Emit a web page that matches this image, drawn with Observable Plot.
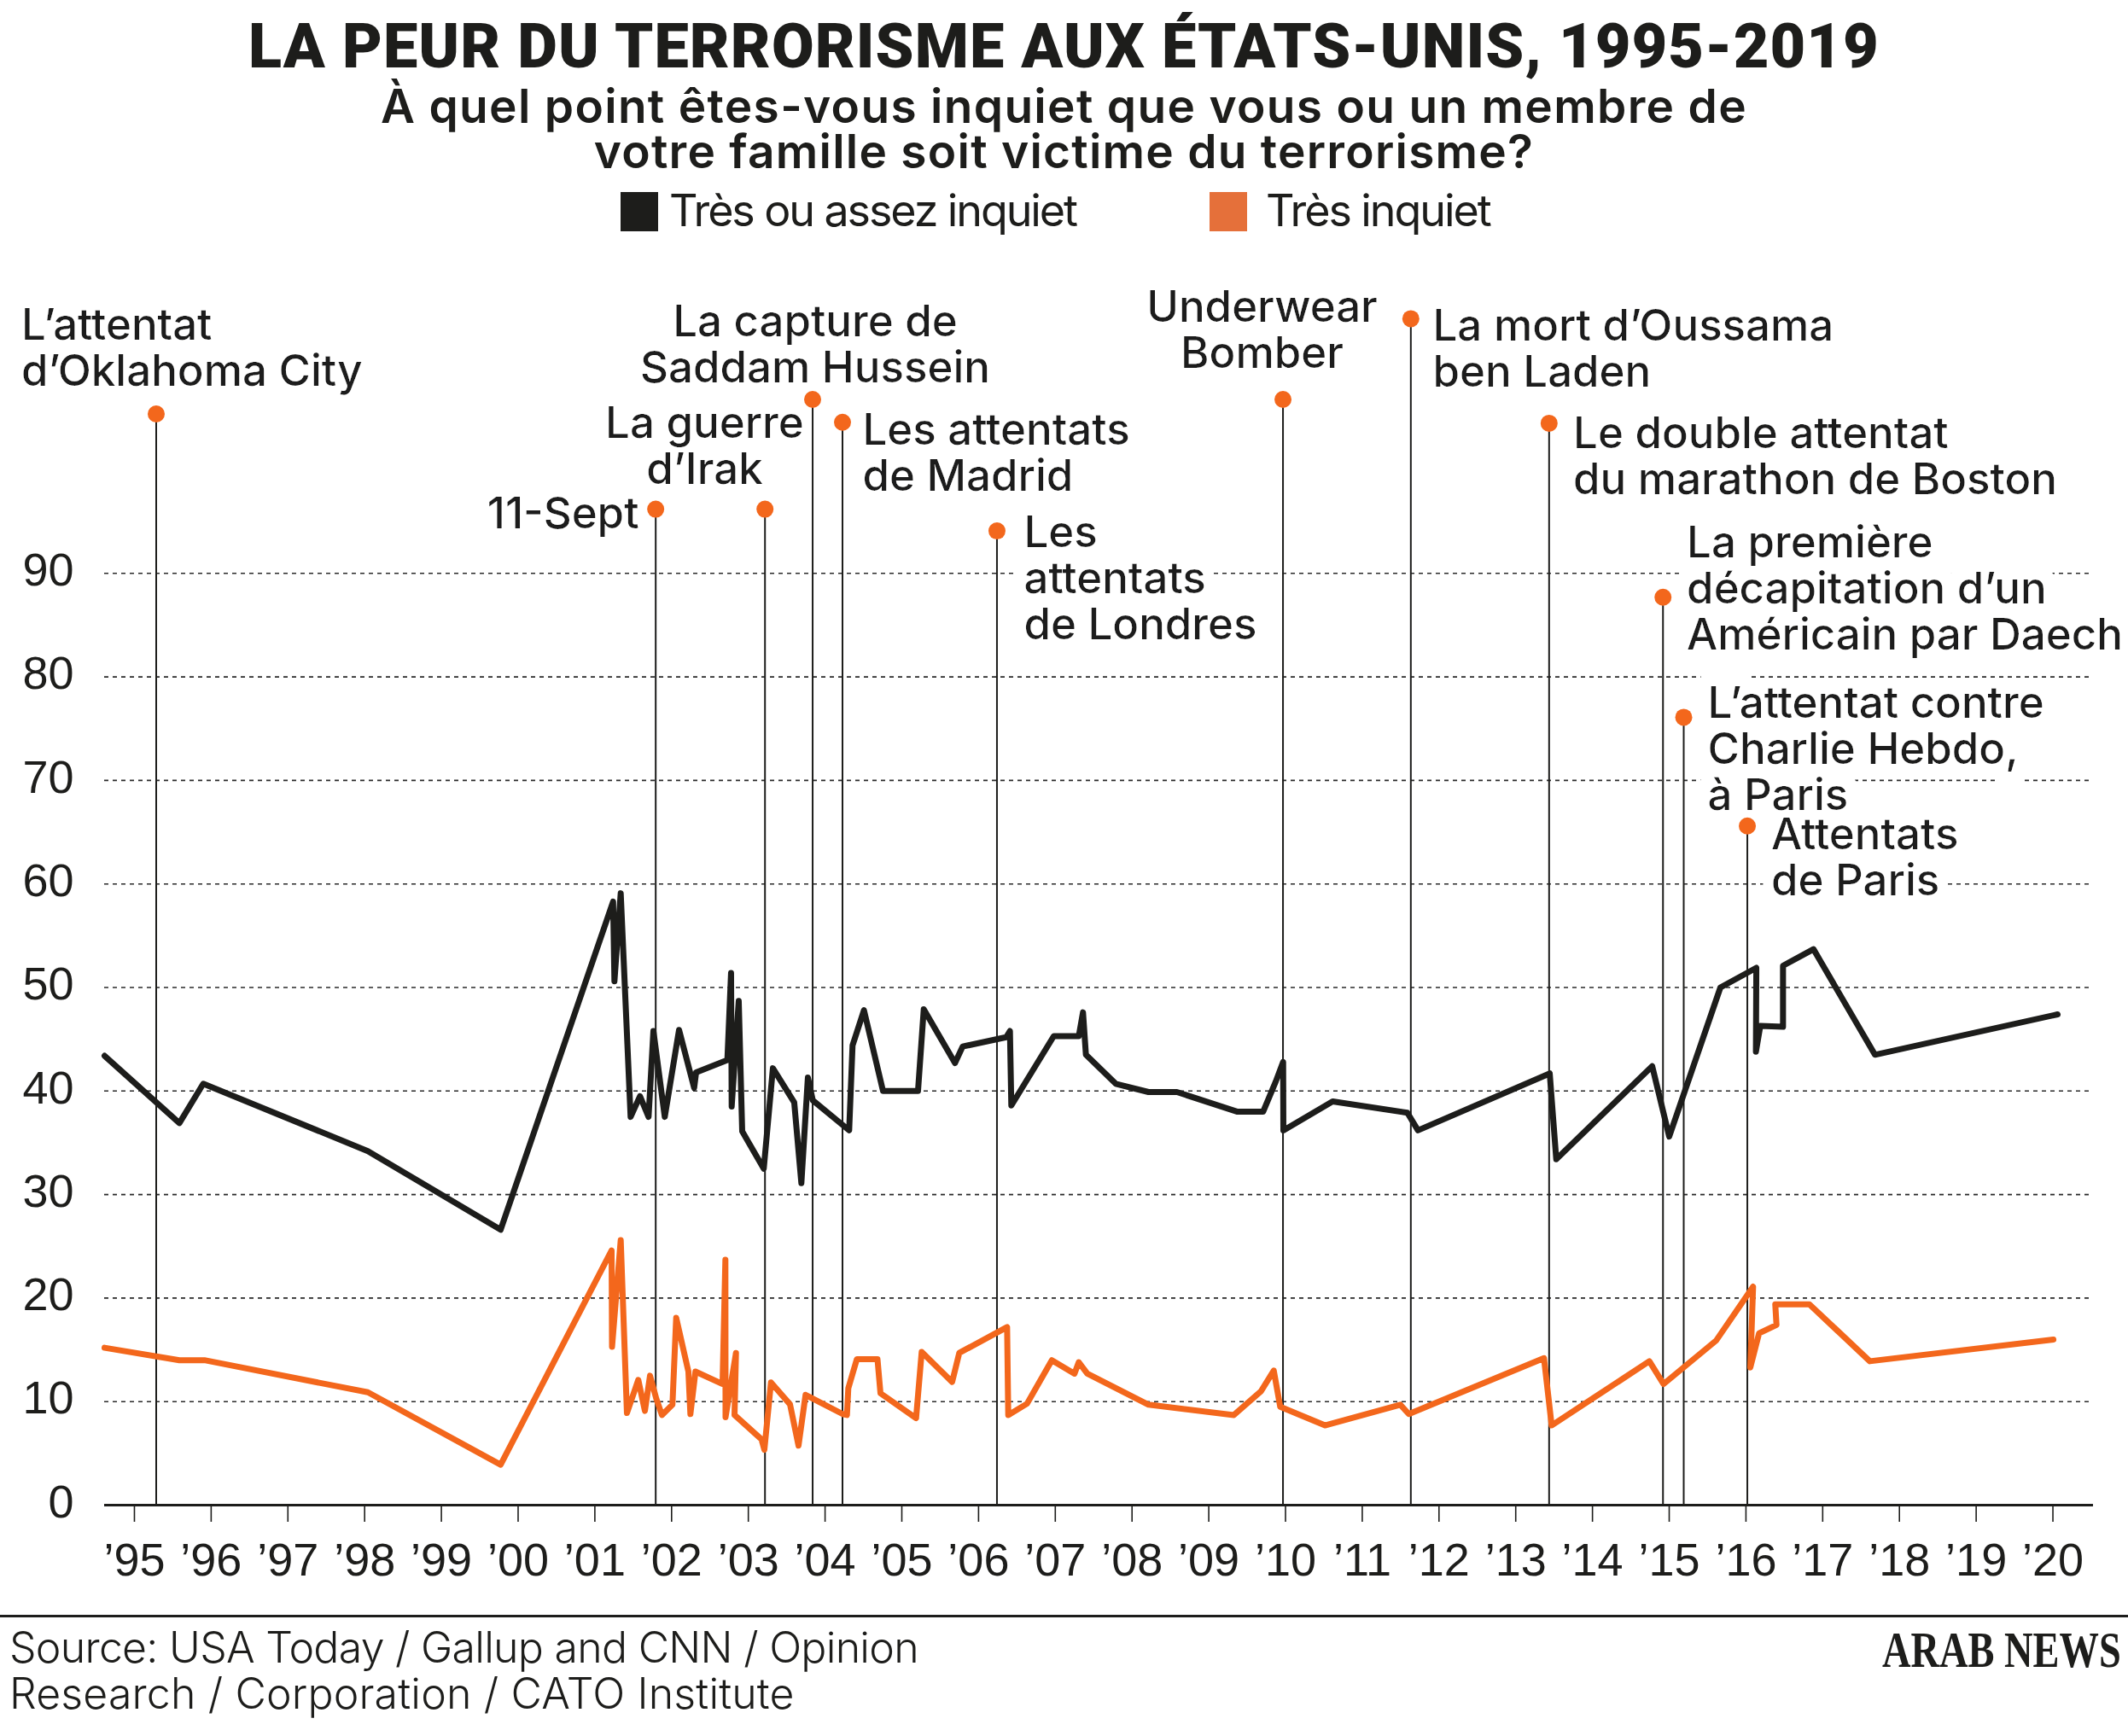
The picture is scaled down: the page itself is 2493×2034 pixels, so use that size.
<!DOCTYPE html>
<html>
<head>
<meta charset="utf-8">
<script src="https://cdn.jsdelivr.net/npm/d3@7"></script>
<script src="https://cdn.jsdelivr.net/npm/@observablehq/plot@0.6"></script>
<style>
  html, body { margin: 0; padding: 0; background: #fff; }
  #page { position: relative; width: 2493px; height: 2034px; overflow: hidden; background: #fff; color: #1d1d1b; }
  .abs { position: absolute; white-space: nowrap; }
  .center { left: 0; width: 2493px; text-align: center; }
  .fit { display: inline-block; white-space: nowrap; }
  #title { top: 19px; font-family: Roboto; font-weight: 900; font-size: 72px; line-height: 72px; }
  #sub { top: 98px; font-family: Inter; font-weight: 600; font-size: 55px; line-height: 53px; }
  .legtext { top: 221px; font-family: Inter; font-weight: 400; font-size: 52px; line-height: 52px; }
  .swatch { position: absolute; top: 225px; width: 44px; height: 46px; }
  #chart { position: absolute; left: 0; top: 290px; }
  #rule { position: absolute; left: 0; top: 1892px; width: 2493px; height: 3px; background: #1d1d1b; }
  #src { left: 11px; top: 1903px; font-family: Inter; font-weight: 300; font-size: 50px; line-height: 54px; }
  #logo { left: 2205px; top: 1903px; font-family: "Liberation Serif"; font-weight: 700; font-size: 60px; line-height: 60px; transform-origin: 0 0; }
</style>
</head>
<body>
<svg width="0" height="0" style="position:absolute">
  <defs>
    <filter id="halo" filterUnits="userSpaceOnUse" x="-200" y="-200" width="2900" height="2000">
      <feMorphology in="SourceAlpha" operator="dilate" radius="12" result="grown"/>
      <feFlood flood-color="#ffffff" result="white"/>
      <feComposite in="white" in2="grown" operator="in" result="haloShape"/>
      <feMerge>
        <feMergeNode in="haloShape"/>
        <feMergeNode in="SourceGraphic"/>
      </feMerge>
    </filter>
  </defs>
</svg>
<div id="page">
  <div class="abs center" id="title"><span class="fit" data-w="1911">LA PEUR DU TERRORISME AUX ÉTATS-UNIS, 1995-2019</span></div>
  <div class="abs center" id="sub"><span class="fit" data-w="1601">À quel point êtes-vous inquiet que vous ou un membre de</span><br><span class="fit" data-w="1102">votre famille soit victime du terrorisme?</span></div>

  <div class="swatch" style="left:727px;background:#1d1d1b;"></div>
  <div class="abs legtext" style="left:784px;"><span class="fit" data-w="477">Très ou assez inquiet</span></div>
  <div class="swatch" style="left:1417px;background:#e5703a;"></div>
  <div class="abs legtext" style="left:1483px;"><span class="fit" data-w="263">Très inquiet</span></div>

  <div id="chart"></div>

  <div id="rule"></div>
  <div class="abs" id="src"><span class="fit" data-w="1065">Source: USA Today / Gallup and CNN / Opinion</span><br><span class="fit" data-w="920">Research / Corporation / CATO Institute</span></div>
  <div class="abs" id="logo"><span id="logotext" class="fit">ARAB NEWS</span></div>
</div>

<script>
// ---------------- DATA ----------------
// Series 1: "Très ou assez inquiet" (%), by decimal year
const blackYears = [1994.611, 1995.586, 1995.897, 1998.042, 1999.772,
  2001.238, 2001.255, 2001.337, 2001.466, 2001.588, 2001.700, 2001.763, 2001.911,
  2002.097, 2002.294, 2002.319, 2002.727, 2002.775, 2002.783, 2002.875, 2002.920,
  2003.201, 2003.320, 2003.598, 2003.691, 2003.776, 2003.840,
  2004.314, 2004.358, 2004.507, 2004.755, 2005.211, 2005.286, 2005.693, 2005.793,
  2006.360, 2006.409, 2006.427, 2006.980, 2007.306, 2007.361, 2007.399, 2007.788,
  2008.215, 2008.585, 2009.375, 2009.708, 2009.872, 2009.969, 2009.972,
  2010.614, 2011.588, 2011.726, 2013.443, 2013.528, 2014.778, 2015.000, 2015.667,
  2016.135, 2016.130, 2016.187, 2016.483, 2016.483, 2016.880, 2017.681, 2020.061];
const blackValues = [43.4, 36.9, 40.7, 34.2, 26.6,
  58.3, 50.6, 59.1, 37.5, 39.5, 37.5, 45.8, 37.5,
  45.9, 40.3, 41.8, 43.0, 51.4, 38.5, 48.7, 36.1,
  32.5, 42.2, 38.9, 31.1, 41.3, 39.1,
  36.2, 44.4, 47.8, 40.0, 40.0, 47.9, 42.7, 44.3,
  45.2, 45.8, 38.6, 45.3, 45.3, 47.6, 43.5, 40.7,
  39.9, 39.9, 38.0, 38.0, 40.9, 42.8, 36.2,
  39.0, 37.9, 36.2, 41.7, 33.4, 42.4, 35.6, 50.0,
  51.9, 43.8, 46.3, 46.2, 52.1, 53.7, 43.5, 47.4];

// Series 2: "Très inquiet" (%), by decimal year
const orangeYears = [1994.611, 1995.586, 1995.912, 1998.042, 1999.772,
  2001.218, 2001.224, 2001.337, 2001.418, 2001.566, 2001.652, 2001.719, 2001.800, 2001.874,
  2002.011, 2002.060, 2002.219, 2002.245, 2002.311, 2002.664, 2002.701, 2002.703, 2002.839, 2002.820,
  2003.172, 2003.209, 2003.295, 2003.543, 2003.654, 2003.746,
  2004.229, 2004.285, 2004.303, 2004.414, 2004.683, 2004.722,
  2005.186, 2005.259, 2005.656, 2005.749, 2006.372, 2006.387, 2006.632, 2006.955,
  2007.250, 2007.306, 2007.417, 2008.215, 2009.327, 2009.680, 2009.847, 2009.931,
  2010.514, 2011.496, 2011.607, 2013.368, 2013.468, 2014.741, 2014.926, 2015.612,
  2016.093, 2016.057, 2016.171, 2016.398, 2016.382, 2016.827, 2017.614, 2020.006];
const orangeValues = [15.2, 14.0, 14.0, 10.9, 3.9,
  24.6, 15.3, 25.6, 8.9, 12.1, 9.1, 12.5, 10.3, 8.7,
  9.7, 18.1, 12.9, 8.8, 12.9, 11.7, 23.7, 8.5, 14.7, 8.7,
  6.35, 5.35, 11.85, 9.74, 5.75, 10.65,
  8.8, 8.7, 11.3, 14.1, 14.1, 10.8,
  8.4, 14.8, 11.9, 14.7, 17.2, 8.7, 9.8, 14.0,
  12.7, 13.8, 12.7, 9.7, 8.7, 11.0, 13.0, 9.5,
  7.7, 9.7, 8.8, 14.2, 7.7, 13.9, 11.7, 15.9,
  21.1, 13.3, 16.6, 17.4, 19.4, 19.4, 13.9, 16.0];

// Events
const eventNames = [
  "L’attentat\nd’Oklahoma City", "11-Sept", "La guerre\nd’Irak", "La capture de\nSaddam Hussein",
  "Les attentats\nde Madrid", "Les\nattentats\nde Londres", "Underwear\nBomber",
  "La mort d’Oussama\nben Laden", "Le double attentat\ndu marathon de Boston",
  "La première\ndécapitation d’un\nAméricain par Daech", "L’attentat contre\nCharlie Hebdo,\nà Paris",
  "Attentats\nde Paris"];
const eventYears = [1995.284, 2001.793, 2003.217, 2003.838, 2004.227, 2006.240, 2009.967,
  2011.633, 2013.435, 2014.919, 2015.189, 2016.018];

// Axis ticks
const xTickYears = d3.range(1995, 2021);
const xTickLabels = xTickYears.map(y => "’" + String(y).slice(2));
const yTickValues = [0, 10, 20, 30, 40, 50, 60, 70, 80, 90];
const gridValues = [10, 20, 30, 40, 50, 60, 70, 80, 90];

// ---------------- LAYOUT (annotation placement in chart coordinates) ----------------
const markerLevels = [105.4, 96.2, 96.2, 106.8, 104.6, 94.1, 106.8, 114.6, 104.5, 87.7, 76.1, 65.6];
const labelX = [1993.526, 2001.574, 2002.430, 2003.871, 2004.488, 2006.590, 2009.694,
  2011.919, 2013.749, 2015.229, 2015.501, 2016.329];
const labelY = [108.08, 94.37, 98.66, 108.46, 98.0, 83.66, 109.86, 108.05, 97.67, 82.67, 67.17, 58.89];
const labelAnchor = ["start", "end", "middle", "middle", "start", "start", "middle",
  "start", "start", "start", "start", "start"];

const INK = "#1d1d1b";
const ORANGE = "#f3671c";

const black = blackYears.map((x, i) => ({year: x, value: blackValues[i]}));
const orange = orangeYears.map((x, i) => ({year: x, value: orangeValues[i]}));
const events = eventNames.map((n, i) => ({name: n, year: eventYears[i], level: markerLevels[i],
  lx: labelX[i], ly: labelY[i], anchor: labelAnchor[i]}));

const textOpts = (anchor) => ({
  x: "lx", y: "ly", text: "name", textAnchor: anchor, lineAnchor: "bottom",
  fontSize: 51, lineHeight: 54 / 51, fontFamily: "Inter", fontWeight: 500,
  fill: INK, imageFilter: "url(#halo)"
});
const anchors = ["start", "middle", "end"];

const chart = Plot.plot({
  width: 2493, height: 1590,
  marginLeft: 122, marginRight: 41, marginTop: 17.4, marginBottom: 117,
  x: {domain: [1994.611, 2020.528], label: null},
  y: {domain: [0, 120], label: null},
  style: {fontFamily: "Inter", color: INK, background: "white", overflow: "visible"},
  marks: [
    Plot.ruleY(gridValues, {stroke: "#2a2a2a", strokeWidth: 1.6, strokeDasharray: "5,5"}),
    ...anchors.map(a => Plot.text(events.filter(d => d.anchor === a), textOpts(a))),
    Plot.ruleX(events, {x: "year", y1: 0, y2: "level", stroke: INK, strokeWidth: 2}),
    Plot.axisX({ticks: xTickYears, tickSize: 20, tickPadding: 24,
      tickFormat: (d) => xTickLabels[xTickYears.indexOf(d)],
      fontSize: 54, fontFamily: "Liberation Sans", strokeWidth: 1.6, label: null}),
    Plot.axisY({ticks: yTickValues, tickSize: 0, tickPadding: 36, fontSize: 54,
      fontFamily: "Liberation Sans", label: null, dy: -3}),
    Plot.ruleY([0], {stroke: INK, strokeWidth: 3}),
    Plot.line(orange, {x: "year", y: "value", stroke: ORANGE, strokeWidth: 7}),
    Plot.line(black, {x: "year", y: "value", stroke: INK, strokeWidth: 7}),
    Plot.dot(events, {x: "year", y: "level", r: 10, fill: ORANGE})
  ]
});
document.getElementById("chart").appendChild(chart);

// fit HTML text widths to the reference
function fitAll() {
  document.querySelectorAll(".fit[data-w]").forEach(el => {
    el.style.letterSpacing = "0px";
    const w = el.offsetWidth;
    const n = el.textContent.length;
    const target = +el.dataset.w;
    el.style.letterSpacing = ((target - w) / n).toFixed(2) + "px";
  });
  const logo = document.getElementById("logotext");
  const lw = logo.offsetWidth;
  document.getElementById("logo").style.transform = `scale(${280 / lw}, 1)`;
}
fitAll();
if (document.fonts && document.fonts.ready) document.fonts.ready.then(fitAll);
</script>
</body>
</html>
